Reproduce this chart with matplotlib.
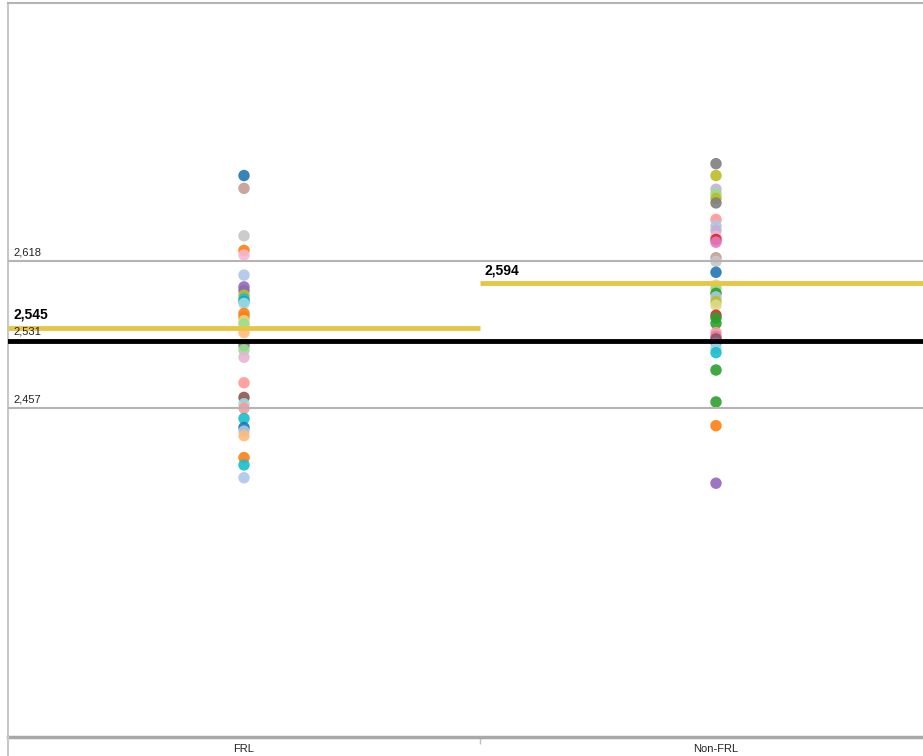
import matplotlib
matplotlib.use("Agg")
import matplotlib.pyplot as plt

plt.rcParams['font.family'] = ['Liberation Sans', 'DejaVu Sans']

# categories along the x axis
categories = ['FRL', 'Non-FRL']

# score of each school, FRL column
frl_values = [2712, 2698, 2646, 2630, 2625, 2603, 2590, 2586, 2581, 2577, 2574, 2572,
              2561, 2557, 2553, 2549, 2540, 2526, 2521, 2513, 2485, 2469, 2462, 2457,
              2446, 2436, 2432, 2427, 2403, 2395, 2381]
frl_colors = ['#1f77b4', '#c49c94', '#c7c7c7', '#ff7f0e', '#f7b6d2', '#aec7e8', '#9467bd', '#8c6bb1',
              '#bcbd22', '#17becf', '#1f9fb4', '#9edae5', '#ff7f0e', '#ff7f0e', '#dbdb8d', '#98df8a',
              '#ffbb78', '#7f7f7f', '#98df8a', '#e4b5d6', '#ff9896', '#8c564b', '#9edae5', '#ff9896',
              '#17becf', '#1f77b4', '#aec7e8', '#ffbb78', '#ff7f0e', '#17becf', '#aec7e8']

# score of each school, Non-FRL column
nonfrl_values = [2725, 2712, 2697, 2692, 2687, 2682, 2664, 2657, 2652, 2645, 2642, 2639,
                 2622, 2618, 2606, 2592, 2588, 2583, 2579, 2574, 2570, 2559, 2556, 2550,
                 2540, 2536, 2533, 2529, 2523, 2518, 2499, 2464, 2438, 2375]
nonfrl_colors = ['#7f7f7f', '#bcbd22', '#c5b0d5', '#98df8a', '#bcbd22', '#7f7f7f', '#ff9896', '#aec7e8',
                 '#c5b0d5', '#f7b6d2', '#d62728', '#e377c2', '#c49c94', '#c7c7c7', '#1f77b4', '#dbdb8d',
                 '#98df8a', '#2ca02c', '#aec7e8', '#bcbd22', '#dbdb8d', '#d62728', '#2ca02c', '#2ca02c',
                 '#ff9896', '#e377c2', '#8c564b', '#9467bd', '#9edae5', '#17becf', '#2ca02c', '#2ca02c',
                 '#ff7f0e', '#9467bd']

# reference lines
band_upper = 2618
band_lower = 2457
overall_avg = 2531
group_avg = [2545, 2594]

fig = plt.figure(figsize=(9.23, 7.56), dpi=100)
ax = fig.add_axes([8/923, 19/756, 944/923, 734/756])

ax.scatter([0]*len(frl_values), frl_values, s=68, c=frl_colors, alpha=0.9, linewidths=0, zorder=2)
ax.scatter([1]*len(nonfrl_values), nonfrl_values, s=68, c=nonfrl_colors, alpha=0.9, linewidths=0, zorder=2)

# gray band lines and black overall average
ax.axhline(band_upper, color='#b4b4b4', lw=1.5, zorder=3)
ax.axhline(band_lower, color='#b4b4b4', lw=1.5, zorder=3)
ax.axhline(overall_avg, color='black', lw=3.5, zorder=4)
# per pane averages
for i, v in enumerate(group_avg):
    ax.hlines(v, i - 0.5, i + 0.5, color='#e8c547', lw=3.5, zorder=4)

ax.annotate('2,618', xy=(-0.5, band_upper), xytext=(4, 3), textcoords='offset points',
            fontsize=8, color='#222222', va='bottom', ha='left', zorder=6)
ax.annotate('2,457', xy=(-0.5, band_lower), xytext=(4, 3), textcoords='offset points',
            fontsize=8, color='#222222', va='bottom', ha='left', zorder=6)
ax.annotate('2,531', xy=(-0.5, overall_avg), xytext=(4, 3), textcoords='offset points',
            fontsize=8, color='#222222', va='bottom', ha='left', zorder=6)
ax.annotate('2,545', xy=(-0.5, group_avg[0]), xytext=(4, 5), textcoords='offset points',
            fontsize=10, fontweight='bold', color='black', va='bottom', ha='left', zorder=6)
ax.annotate('2,594', xy=(0.5, group_avg[1]), xytext=(3, 4), textcoords='offset points',
            fontsize=10, fontweight='bold', color='black', va='bottom', ha='left', zorder=6)

ax.set_xlim(-0.5, 1.5)
ax.set_ylim(2097, 2901)
ax.set_yticks([])
ax.set_xticks([0, 1])
ax.set_xticklabels(categories, fontsize=8, color='#222222')
ax.tick_params(axis='x', which='major', length=0, pad=5)
ax.set_xticks([0.5], minor=True)
ax.tick_params(axis='x', which='minor', length=5, color='#c0c0c0', width=1)

ax.spines['right'].set_visible(False)
ax.spines['top'].set_color('#b4b4b4')
ax.spines['top'].set_linewidth(1.5)
ax.spines['left'].set_color('#c8c8c8')
ax.spines['left'].set_linewidth(1.5)
ax.spines['bottom'].set_color('#a8a8a8')
ax.spines['bottom'].set_linewidth(2.5)

# left border keeps going below the axis, as in the reference
fig.add_artist(plt.Line2D([8/923, 8/923], [0, 19/756], color='#c8c8c8', lw=1.5))

fig.savefig('out.png', dpi=100)
